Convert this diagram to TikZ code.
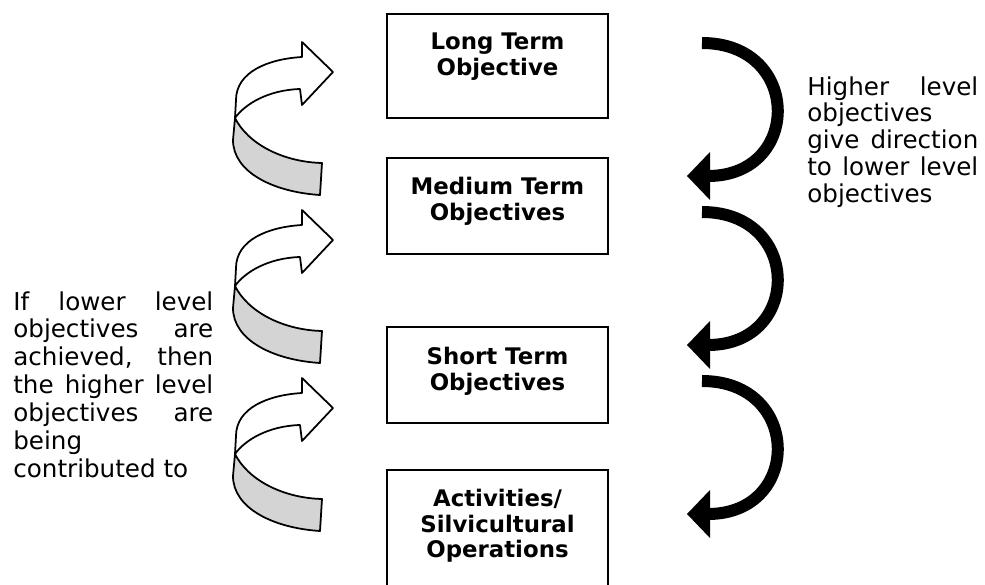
\documentclass[tikz,border=0pt]{standalone}
\usepackage{fontspec}
\setmainfont{DejaVu Sans}
\usetikzlibrary{positioning}

\tikzset{
  objbox/.style={draw, line width=1.1pt, minimum width=4.42cm, anchor=north, inner sep=0pt},
  objtext/.style={font=\bfseries\fontsize{13pt}{14.5pt}\selectfont, align=center, inner sep=0pt},
  sidetext/.style={font=\fontsize{14pt}{15.9pt}\selectfont, align=justify, inner sep=0pt, anchor=north west},
  ribbon/.style={draw, line width=1pt, line join=round},
  downarc/.style={line width=0.24cm},
}

\begin{document}
\begin{tikzpicture}[x=0.02cm, y=-0.02cm]
\useasboundingbox (0,0) rectangle (985,585);
\clip (0,0) rectangle (985,585);
% objective boxes
\node[objbox, minimum height=2.08cm] (lt) at (497.5,13) {};
\node[objbox, minimum height=1.92cm] (mt) at (497.5,157) {};
\node[objbox, minimum height=1.92cm] (st) at (497.5,326) {};
\node[objbox, minimum height=2.8cm] (act) at (497.5,469) {};
\node[objtext, below=0.4cm of lt.north] (ltt) {Long Term\\Objective};
\node[objtext, below=0.4cm of mt.north] (mtt) {Medium Term\\Objectives};
\node[objtext, below=0.42cm of st.north] (stt) {Short Term\\Objectives};
\node[objtext, below=0.4cm of act.north] (actt) {Activities/\\Silvicultural\\Operations};
% twisted arrows going up (left)
\foreach \ty in {72,240,408}{
  \begin{scope}[shift={(333,\ty)}]
    \draw[ribbon, fill=black!17] (-98,46) .. controls (-85,72) and (-50,90) .. (-11,91)
      -- (-13,123) .. controls (-60,120) and (-100,100) .. (-100,68) -- cycle;
    \draw[ribbon, fill=white] (-98,46) -- (-97,28) .. controls (-97,0) and (-65,-13) .. (-31,-15)
      -- (-31,-30) -- (0,0) -- (-31,33) -- (-33,17) .. controls (-65,18) and (-88,32) .. (-98,46) -- cycle;
  \end{scope}
}
% black arrows going down (right)
\foreach \dy in {0,169,338}{
  \draw[downarc] (702,43+\dy) .. controls (802,43+\dy) and (802,176+\dy) .. (708,176+\dy);
  \fill (710,152+\dy) -- (687,176+\dy) -- (710,200+\dy) -- cycle;
}
% side notes
\node[sidetext, text width=4cm] (achieve) at (13,291) {If lower level\linebreak objectives are\linebreak achieved, then\linebreak the higher level\linebreak objectives are\linebreak being\linebreak contributed to};
\node[sidetext, text width=3.42cm, font=\fontsize{14pt}{15.3pt}\selectfont] (direct) at (807,76) {Higher level\linebreak objectives\linebreak give direction\linebreak to lower level\linebreak objectives};
\end{tikzpicture}
\end{document}
